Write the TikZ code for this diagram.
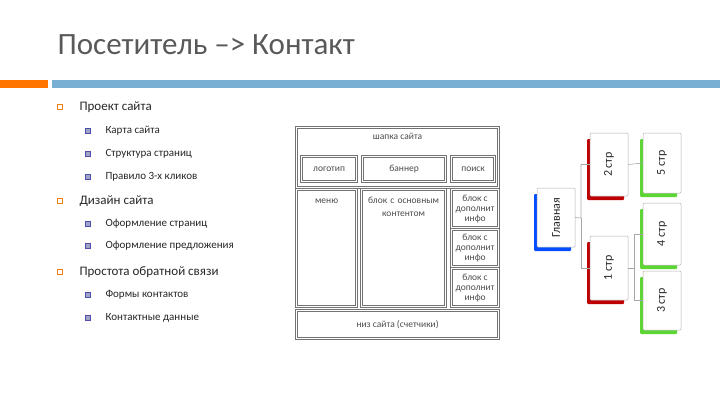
\documentclass[tikz,border=0pt]{standalone}
\usepackage{fontspec}
\setmainfont{Carlito}
\begin{document}
\begin{tikzpicture}[x=1pt,y=-1pt,
  wf/.style={draw=black!55,line width=1.2pt,double=white,double distance=0.6pt,inner sep=1pt,font=\fontsize{9.5}{10}\selectfont,text=black!70,align=center},
  lvl1/.style={anchor=west,font=\fontsize{13}{13}\selectfont,text=black!85},
  lvl2/.style={anchor=west,font=\fontsize{11}{11}\selectfont,text=black!85},
  b1/.style={draw=orange!70!brown,line width=0.5pt,minimum size=5pt,inner sep=0pt},
  b2/.style={draw=blue!40!gray,fill=blue!20!gray!60,line width=0.5pt,minimum size=5pt,inner sep=0pt},
  conn/.style={draw=black!35,line width=0.6pt}]
\useasboundingbox (0,0) rectangle (720,405);
\node[anchor=west,font=\fontsize{31}{31}\selectfont,text=black!65] (title) at (54,45) {Посетитель –> Контакт};
\fill[orange!80!red!90!yellow] (0,80) rectangle (48,88);
\fill[blue!40!cyan!50!gray!70] (52,80) rectangle (720,88);
% bullets
\foreach \y/\t [count=\i] in {107/Проект сайта,201/Дизайн сайта,272/Простота обратной связи}{
  \node[b1] (a\i) at (60,\y) {};
  \node[lvl1] (t\i) at (76,\y) {\t};}
\foreach \y/\t [count=\i] in {131/Карта сайта,154/Структура страниц,177/Правило 3-х кликов,224/Оформление страниц,246/Оформление предложения,295/Формы контактов,318/Контактные данные}{
  \node[b2] (c\i) at (88,\y) {};
  \node[lvl2] (s\i) at (102,\y) {\t};}
% wireframe
\node[wf,minimum width=202pt,minimum height=60pt,anchor=north west] (head) at (296,127) {};
\node[wf,anchor=north] at (head.north) [draw=none,double=none,yshift=-4pt] (headt) {шапка сайта};
\node[wf,minimum width=55pt,minimum height=25pt,anchor=north west] (logo) at (301,156) {логотип};
\node[wf,minimum width=83pt,minimum height=25pt,anchor=north west] (ban) at (362,156) {баннер};
\node[wf,minimum width=43pt,minimum height=25pt,anchor=north west] (srch) at (451,156) {поиск};
\node[wf,minimum width=60pt,minimum height=117pt,anchor=north west,align=center] (menu) at (296,189) {};
\node[wf,draw=none,double=none,anchor=north] at ([yshift=-8pt]menu.north) {меню};
\node[wf,minimum width=84pt,minimum height=117pt,anchor=north west] (main) at (361,189) {};
\node[wf,draw=none,double=none,anchor=north,text width=84pt] at ([yshift=-6pt]main.north) {блок с основным\\[3pt]контентом};
\node[wf,minimum width=47pt,minimum height=38pt,anchor=north west] (i1) at (451,189) {блок с\\дополнит\\инфо};
\node[wf,minimum width=47pt,minimum height=37pt,anchor=north west] (i2) at (451,229) {блок с\\дополнит\\инфо};
\node[wf,minimum width=47pt,minimum height=38pt,anchor=north west] (i3) at (451,268) {блок с\\дополнит\\инфо};
\node[wf,minimum width=202pt,minimum height=28pt,anchor=north west] (foot) at (296,310) {низ сайта (счетчики)};
% tree
\tikzset{pg/.style={draw=black!30,fill=white,line width=0.5pt,rounded corners=1pt,minimum width=38pt,font=\fontsize{12}{12}\selectfont,text=black!85}}
\foreach \n/\x/\ya/\yb/\c/\t in {g/556/188/247/blue!70!cyan/Главная,p2/609/133/196/red!75!black/2 стр,p1/609/236/300/red!75!black/1 стр,p5/662/133/193/green!60!olive!80/5 стр,p4/662/203/265/green!60!olive!80/4 стр,p3/662/271/330/green!60!olive!80/3 стр}{
  \fill[\c,rounded corners=1pt] (\x-22,\ya+6) rectangle (\x+15,\yb+4);
  \node[pg,minimum height={(\yb-\ya)*1pt}] (\n) at (\x,{(\ya+\yb)/2}) {\rotatebox{90}{\t}};}
\coordinate (j1) at (581,218);
\coordinate (j2) at (634,268);
\draw[conn] (g.east) -- (j1) |- (p2.west);
\draw[conn] (j1) |- (p1.west);
\draw[conn] (p2.east) -- (p5.west);
\draw[conn] (p1.east) -- (j2) |- (p4.west);
\draw[conn] (j2) |- (p3.west);
\end{tikzpicture}
\end{document}
